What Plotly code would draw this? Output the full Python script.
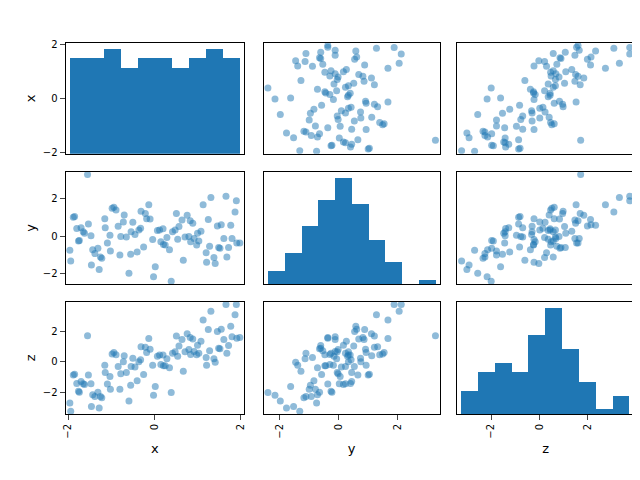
import numpy as np
import plotly.graph_objects as go

x = [-1.96, -1.94, -1.88, -1.85, -1.80, -1.74, -1.76, -1.70, -1.65, -1.62,
     -1.55, -1.53, -1.47, -1.46, -1.43, -1.38, -1.31, -1.28, -1.25, -1.22,
     -1.15, -1.14, -1.09, -1.03, -1.02, -0.98, -0.94, -0.89, -0.84, -0.80,
     -0.78, -0.72, -0.70, -0.65, -0.59, -0.55, -0.54, -0.50, -0.45, -0.40,
     -0.36, -0.32, -0.31, -0.25, -0.21, -0.18, -0.13, -0.10, -0.04, -0.02,
     0.02, 0.07, 0.12, 0.15, 0.20, 0.21, 0.25, 0.29, 0.35, 0.39,
     0.42, 0.48, 0.51, 0.54, 0.57, 0.64, 0.67, 0.71, 0.76, 0.80,
     0.83, 0.84, 0.89, 0.92, 0.98, 1.00, 1.03, 1.08, 1.13, 1.20,
     1.21, 1.25, 1.28, 1.31, 1.38, 1.41, 1.46, 1.49, 1.52, 1.55,
     1.61, 1.66, 1.68, 1.72, 1.77, 1.80, 1.87, 1.90, 1.91, 1.98]
y = [-0.75, -1.32, 1.00, 1.04, 0.40, -0.23, -0.26, 0.44, 0.23, 0.16,
     3.28, 0.65, 0.02, -1.53, -0.72, -0.93, -0.65, -1.77, -1.11, -1.18,
     0.93, 0.44, -0.37, 0.05, -0.79, 1.49, 1.54, 1.39, 0.53, -1.00,
     -0.02, 0.75, 1.12, -0.05, -1.98, -0.96, 0.23, 0.74, 0.09, -0.84,
     0.33, 0.42, 1.32, -0.58, 1.21, 0.93, 1.67, 0.91, -0.18, -2.16,
     -1.63, 0.30, 0.33, -0.30, 0.39, -0.44, -0.47, -0.07, -0.72, -2.40,
     0.23, 0.33, 1.21, -0.16, 0.51, 0.86, -1.28, -0.05, 1.11, -0.02,
     0.82, -0.30, 0.68, -0.12, -0.47, 0.16, -0.26, 0.26, 1.67, -0.89,
     -1.39, 0.88, -0.54, 2.05, -1.14, -1.46, 0.54, -0.61, -0.65, 0.61,
     -0.12, 2.12, -1.11, -0.61, 0.58, -0.12, 1.28, 1.88, -0.37, -0.37]
z = [-2.69, -3.23, -0.86, -0.80, -1.40, -1.98, -1.91, -1.27, -1.42, -1.48,
     1.72, -0.86, -1.42, -2.92, -2.15, -2.26, -1.98, -3.01, -2.26, -2.34,
     -0.22, -0.69, -1.44, -0.95, -1.78, 0.52, 0.62, 0.47, -0.30, -1.78,
     -0.77, 0.02, 0.41, -0.69, -2.56, -1.53, -0.30, 0.24, -0.32, -1.23,
     0.02, 0.15, 0.99, -0.82, 0.97, 0.62, 1.53, 0.84, -0.22, -2.17,
     -1.61, 0.37, 0.45, -0.17, 0.45, -0.24, -0.24, 0.22, -0.37, -2.00,
     0.58, 0.67, 1.70, 0.37, 1.05, 1.48, -0.60, 0.67, 1.85, 0.82,
     1.61, 0.49, 1.51, 0.69, 0.47, 1.10, 0.58, 1.35, 2.75, 0.30,
     -0.22, 2.13, 0.73, 3.33, 0.22, -0.02, 2.00, 0.90, 0.86, 2.15,
     1.48, 3.76, 0.58, 1.08, 2.34, 1.66, 3.10, 3.76, 1.55, 1.61]

names = ["x", "y", "z"]
cols = [x, y, z]
ticks = [-2, 0, 2]
blue = "#1f77b4"

xdom = [[0.086, 0.367], [0.398, 0.675], [0.703, 0.981]]
ydom = [[0.698, 0.933], [0.423, 0.660], [0.148, 0.385]]


def lims(v):
    d = (max(v) - min(v)) * 0.025
    return [min(v) - d, max(v) + d]


fig = go.Figure()
layout = {}
for r in range(3):
    for c in range(3):
        k = r * 3 + c + 1
        xa = "x" if k == 1 else f"x{k}"
        ya = "y" if k == 1 else f"y{k}"
        if r == c:
            counts, edges = np.histogram(cols[c], bins=10)
            fig.add_trace(go.Bar(
                x=(edges[:-1] + edges[1:]) / 2, y=counts, width=np.diff(edges),
                xaxis=xa, yaxis=ya, marker=dict(color=blue, line_width=0),
                showlegend=False))
        else:
            fig.add_trace(go.Scatter(
                x=cols[c], y=cols[r], mode="markers", xaxis=xa, yaxis=ya,
                marker=dict(color=blue, opacity=0.5, size=7), showlegend=False))
        bottom = r == 2
        left = c == 0
        layout[f"xaxis{k}"] = dict(
            domain=xdom[c], anchor=ya, range=lims(cols[c]), tickvals=ticks,
            showticklabels=bottom, ticks="outside" if bottom else "",
            tickangle=-90, showgrid=False, zeroline=False,
            showline=True, mirror=True, linecolor="black",
            title=dict(text=names[c] if bottom else "", font_size=13, standoff=6))
        ydict = dict(
            domain=ydom[r], anchor=xa, showgrid=False, zeroline=False,
            showline=True, mirror=True, linecolor="black",
            title=dict(text=names[r] if left and r != c else "", font_size=13, standoff=4))
        if r == c:
            ydict.update(showticklabels=False, ticks="")
        else:
            ydict.update(range=lims(cols[r]), tickvals=ticks,
                         showticklabels=left, ticks="outside" if left else "")
        layout[f"yaxis{k}"] = ydict

# tick labels for the top-left histogram follow the x data range
fig.add_trace(go.Scatter(x=[None], y=[None], xaxis="x", yaxis="y10", showlegend=False))
layout["yaxis10"] = dict(domain=ydom[0], anchor="x", overlaying="y", side="left",
                         range=lims(x), tickvals=ticks, ticks="outside",
                         showgrid=False, zeroline=False,
                         title=dict(text="x", font_size=13, standoff=4))

layout["xaxis"] = layout.pop("xaxis1")
layout["yaxis"] = layout.pop("yaxis1")
fig.update_layout(**layout)
fig.update_layout(width=640, height=480, margin=dict(l=0, r=0, t=0, b=0),
                  bargap=0, plot_bgcolor="white", paper_bgcolor="white",
                  font=dict(family="DejaVu Sans", size=10, color="black"))

fig.write_html("out.html")
